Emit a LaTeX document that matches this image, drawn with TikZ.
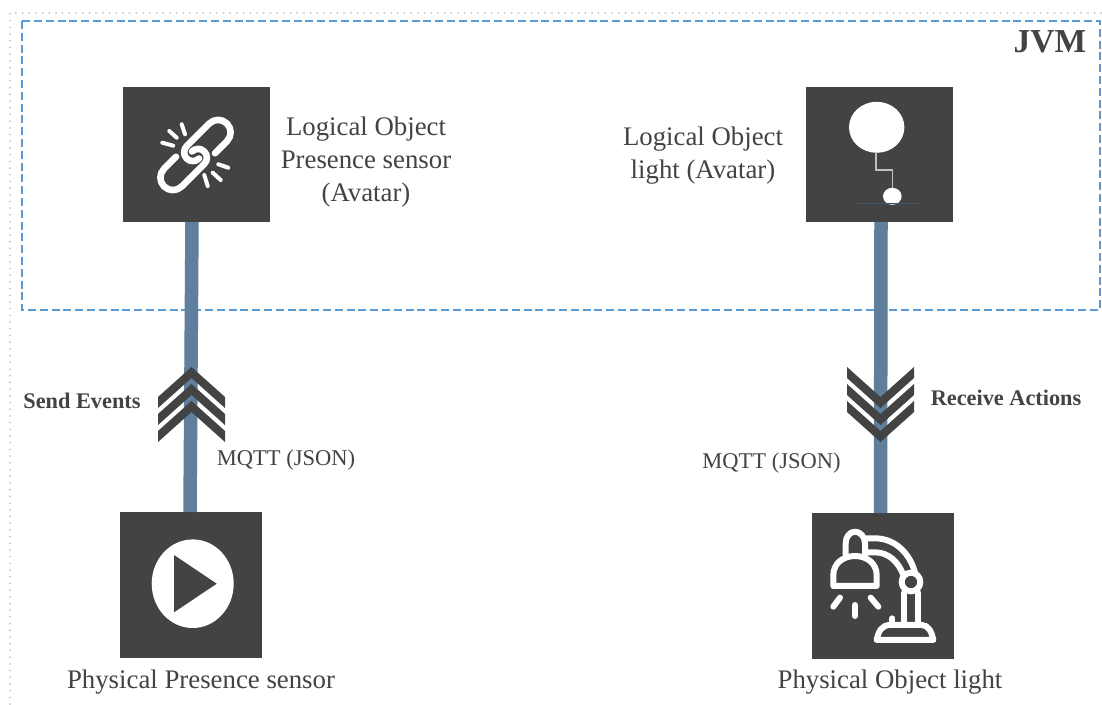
\documentclass[tikz,border=0pt]{standalone}
\usepackage{fontspec}
\setmainfont{Liberation Serif}
\definecolor{ink}{HTML}{434343}
\definecolor{pipecol}{HTML}{5F7F9C}
\definecolor{dashblue}{HTML}{5B9BD5}
\definecolor{dotgray}{HTML}{C4C4C4}
\definecolor{darkline}{HTML}{3F5566}
\tikzset{
  box/.style={fill=ink,draw=none,inner sep=0pt,outer sep=0pt},
  pipe/.style={draw=pipecol,line width=13.5pt},
  lbl/.style={text=ink,font=\fontsize{26.8}{33}\selectfont,align=center,inner sep=0pt},
  small/.style={text=ink,font=\fontsize{22.5}{26}\selectfont,inner sep=0pt},
  boldlbl/.style={text=ink,font=\fontsize{22.3}{26}\selectfont\bfseries,inner sep=0pt},
  chev/.style={fill=ink,draw=none},
  icon/.style={draw=white,line width=5pt,line cap=round,line join=round},
  iconthin/.style={draw=white,line width=6pt,line cap=round,line join=round},
}
\begin{document}
\begin{tikzpicture}[x=1pt,y=-1pt]
\useasboundingbox[fill=white] (0,0) rectangle (1102,704);
\draw[dotgray,line width=2pt,line cap=round,dash pattern=on 0pt off 6.7pt] (10,704) -- (10,13) -- (1102,13);
\draw[dashblue,line width=1.6pt,dash pattern=on 8pt off 3.8pt] (22,21) rectangle (1100,310);
\node[anchor=center,text=ink,font=\fontsize{33.5}{36}\selectfont\bfseries,inner sep=0pt] (jvm) at (1050,42) {JVM};
% boxes
\node[box,minimum width=147pt,minimum height=135pt] (lo1) at (196.5,154.5) {};
\node[box,minimum width=147pt,minimum height=135pt] (lo2) at (879.5,154.5) {};
\node[box,minimum width=142pt,minimum height=146pt] (po1) at (191,585) {};
\node[box,minimum width=142pt,minimum height=146pt] (po2) at (883,586) {};
% connectors
\draw[pipe] ([xshift=-4.5pt]lo1.south) -- ([xshift=-1pt]po1.north);
\draw[pipe] ([xshift=1.5pt]lo2.south) -- ([xshift=-2.5pt]po2.north);
% chevrons up
\foreach \d in {0,17,34}{
  \fill[chev] (158,397+\d) -- (191.5,367+\d) -- (225,397+\d) -- (225,408+\d) -- (191.5,378+\d) -- (158,408+\d) -- cycle;
  \fill[chev] (847,367+\d) -- (880.5,397+\d) -- (914,367+\d) -- (914,378+\d) -- (880.5,408+\d) -- (847,378+\d) -- cycle;
}
% link icon
\begin{scope}[shift={(195.5,155)},rotate=45]
  \draw[icon,line width=6.6pt] (15,12.5) -- (32,12.5) arc[start angle=90,end angle=-90,radius=12.5] -- (0,-12.5) arc[start angle=-90,end angle=-270,radius=8.75];
  \draw[icon,line width=6.6pt] (-15,-12.5) -- (-32,-12.5) arc[start angle=-90,end angle=-270,radius=12.5] -- (0,12.5) arc[start angle=90,end angle=-90,radius=8.75];
\end{scope}
\foreach \a/\b/\c/\e in {181.7/124.3/185/134.3, 169.3/131/176.7/137.7, 162.3/142.7/173.3/145.7, 218.3/164.3/228.3/167.7, 212.7/172.7/220.7/180, 204.3/175/207.7/186}{
  \draw[icon,line width=4pt] (\a,\b) -- (\c,\e);
}
% bulb icon
\fill[white] (876.7,127.3) ellipse[x radius=27.7,y radius=25.5];
\draw[draw=gray!50!white,line width=1.6pt] (876,152) -- (876,169.7) -- (892.3,169.7) -- (892.3,190);
\fill[white] (892.3,196.3) ellipse[x radius=9.3,y radius=8.5];
\draw[draw=darkline,line width=0.8pt] (856,203.3) -- (919,203.3);
% play icon
\fill[white] (192.7,583.7) ellipse[x radius=41,y radius=44.3];
\fill[ink] (174,555) -- (216.7,583.7) -- (174,612.3) -- cycle;
% lamp icon
\begin{scope}[shift={(800,500)},x=0.3333pt,y=-0.3333pt]
  \draw[iconthin] (100,258) -- (100,225) .. controls (100,190) and (130,168) .. (165,168) .. controls (200,168) and (230,190) .. (230,225) -- (230,258) -- cycle;
  \draw[iconthin] (137,165) -- (137,130) .. controls (137,110) and (150,95) .. (165,95) .. controls (180,95) and (195,110) .. (195,130) -- (195,165);
  \draw[iconthin] (195,115) -- (225,115) .. controls (285,115) and (330,160) .. (345,218);
  \draw[iconthin] (195,157) -- (225,157) .. controls (265,157) and (295,185) .. (310,225);
  \draw[iconthin] (333,246) circle[radius=28];
  \draw[iconthin] (312,278) -- (312,375);
  \draw[iconthin] (355,278) -- (355,375);
  \draw[iconthin] (230,420) .. controls (235,395) and (245,375) .. (270,375) -- (365,375) .. controls (385,375) and (395,395) .. (400,420) -- cycle;
  \draw[iconthin] (277,355) -- (277,375);
  \draw[iconthin] (100,320) -- (120,293);
  \draw[iconthin] (165,315) -- (165,348);
  \draw[iconthin] (212,293) -- (235,320);
\end{scope}
% labels
\node[lbl] (t1) at (366,162) {Logical Object\\Presence sensor\\(Avatar)};
\node[lbl] (t2) at (703,155.5) {Logical Object\\light (Avatar)};
\node[boldlbl] (t3) at (82,400.5) {Send Events};
\node[boldlbl] (t4) at (1006,397.5) {Receive Actions};
\node[small] (t5) at (286,460) {MQTT (JSON)};
\node[small] (t6) at (771.5,463) {MQTT (JSON)};
\node[lbl] (t7) at (201,682) {Physical Presence sensor};
\node[lbl] (t8) at (890,682) {Physical Object light};
\end{tikzpicture}
\end{document}
